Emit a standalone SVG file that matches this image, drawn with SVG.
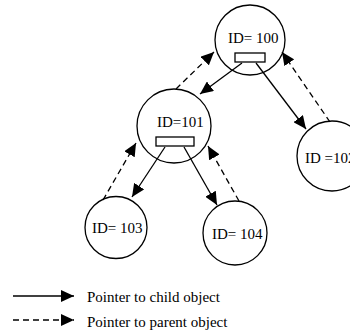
<svg xmlns="http://www.w3.org/2000/svg" width="350" height="335" viewBox="0 0 350 335">
<style>
  .node circle{fill:#fff;stroke:#000;stroke-width:1.3}
  .node rect{fill:#fff;stroke:#000;stroke-width:1.3}
  text{font-family:"Liberation Serif","Times New Roman",serif;font-size:15px;fill:#000}
  .solid{stroke:#000;stroke-width:1.3;fill:none;marker-end:url(#ah)}
  .dash{stroke:#000;stroke-width:1.3;fill:none;stroke-dasharray:6,4;marker-end:url(#ah)}
</style>
<defs>
  <marker id="ah" markerUnits="userSpaceOnUse" markerWidth="13" markerHeight="12" viewBox="0 0 13 12" refX="13" refY="6" orient="auto">
    <path d="M0,0 L13,6 L0,12 z" fill="#000"/>
  </marker>
</defs>
<rect width="350" height="335" fill="#fff"/>
<g id="n100" class="node">
  <circle cx="250" cy="40" r="35"/>
  <text x="228" y="43">ID= 100</text>
  <rect x="235" y="53" width="30" height="9"/>
</g>
<g id="n101" class="node">
  <circle cx="174" cy="126" r="37"/>
  <text x="157" y="127">ID=101</text>
  <rect x="156" y="137" width="38" height="9"/>
</g>
<g id="n102" class="node">
  <circle cx="332" cy="156" r="35"/>
  <text x="305" y="163">ID =102</text>
</g>
<g id="n103" class="node">
  <circle cx="116" cy="227.5" r="31"/>
  <text x="92" y="233">ID= 103</text>
</g>
<g id="n104" class="node">
  <circle cx="235" cy="233" r="32"/>
  <text x="212" y="239">ID= 104</text>
</g>
<g id="connectors">
  <line class="solid" x1="242" y1="63" x2="200" y2="94"/>
  <line class="solid" x1="256" y1="63" x2="306" y2="129"/>
  <line class="dash" x1="176" y1="89" x2="214" y2="52"/>
  <line class="dash" x1="330" y1="122" x2="282" y2="52"/>
  <line class="solid" x1="165" y1="147" x2="132" y2="197"/>
  <line class="solid" x1="184" y1="147" x2="217" y2="205"/>
  <line class="dash" x1="103" y1="200" x2="136" y2="143"/>
  <line class="dash" x1="239" y1="201" x2="208" y2="146"/>
</g>
<g id="legend">
  <line class="solid" x1="13" y1="296" x2="74" y2="296"/>
  <text x="87" y="302">Pointer to child object</text>
  <line class="dash" x1="13" y1="320" x2="74" y2="320"/>
  <text x="87" y="327">Pointer to parent object</text>
</g>
</svg>
